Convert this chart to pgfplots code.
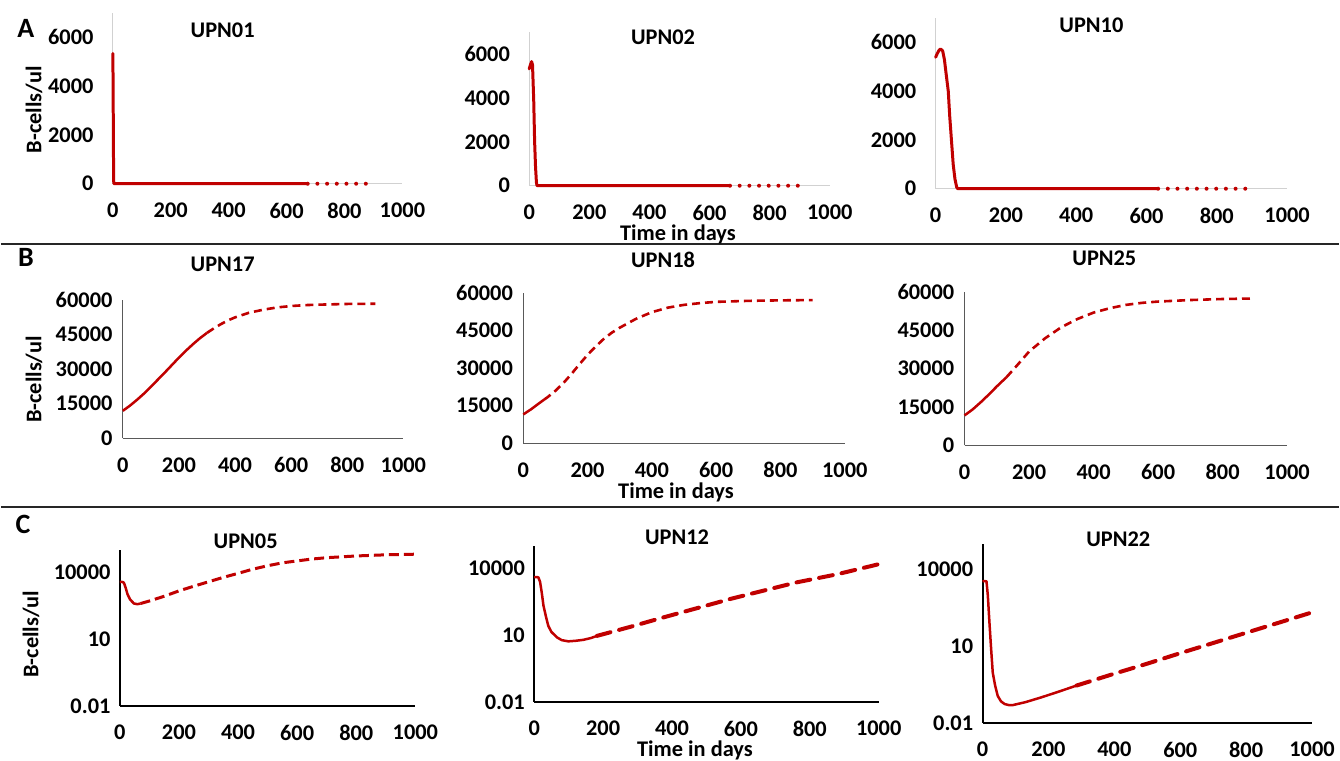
\documentclass[border=0pt]{standalone}
\usepackage{fontspec}
\setmainfont{Carlito}
\usepackage{pgfplots}
\pgfplotsset{compat=1.18}
\definecolor{cr}{HTML}{C00000}
\newcommand\tf{\fontsize{11.2}{13}\selectfont\bfseries}
\newcommand\lf{\fontsize{14}{16}\selectfont\bfseries}
\pgfplotsset{
 panel/.style={scale only axis, anchor=south west, axis x line*=bottom, axis y line*=left,
   xmin=0, xmax=1000, xtick={0,200,400,600,800,1000}, xticklabels={0,200,400,600,800,1000},
   major tick length=0pt, minor tick length=0pt, clip=false, scaled y ticks=false, scaled x ticks=false,
   tick label style={font=\tf}, xticklabel style={anchor=north, inner sep=0pt, yshift=-9.4pt},
   yticklabel style={anchor=east, inner sep=0pt},
   /pgf/number format/assume math mode=true},
 rowA/.style={panel, ymin=0, ymax=7000, ytick={0,2000,4000,6000}, yticklabels={0,2000,4000,6000},
   axis line style={draw=black!18, line width=0.6pt}, yticklabel style={xshift=-9.5pt}},
 rowB/.style={panel, ymin=0, ymax=60000, ytick={0,15000,30000,45000,60000}, yticklabels={0,15000,30000,45000,60000},
   axis line style={draw=black!65, line width=0.5pt}, yticklabel style={xshift=-5pt}},
 rowC/.style={panel, ymin=0.01, ymax=100000, ytick={0.01,10,10000}, yticklabels={0.01,10,10000},
   axis line style={draw=black, line width=1pt}, yticklabel style={xshift=-4.5pt}},
 solidA/.style={cr, line width=1.5pt, line join=round, line cap=round},
 dotA/.style={cr, line width=2pt, line cap=round, dash pattern=on 0pt off 4.85pt},
 solidB/.style={cr, line width=1.25pt, line join=round},
 dashB/.style={cr, line width=1.3pt, dash pattern=on 4pt off 2.5pt},
 dashC1/.style={cr, line width=1.5pt, dash pattern=on 5pt off 2.5pt},
 dashC/.style={cr, line width=2pt, line cap=round, dash pattern=on 7pt off 4.5pt},
}
\tikzset{tx/.style={font=\tf, inner sep=0pt}}
\begin{document}
\begin{tikzpicture}
\path (0,0) rectangle (670pt,381pt);
% separators
\draw[black!85, line width=1pt] (0,259pt) -- (670pt,259pt);
\draw[black!85, line width=1pt] (0,127pt) -- (670pt,127pt);
% letters
\node[font=\lf, inner sep=0pt] at (12.5pt,367pt) {A};
\node[font=\lf, inner sep=0pt] at (12.5pt,252pt) {B};
\node[font=\lf, inner sep=0pt] at (11pt,118.5pt) {C};
% titles
\node[tx] at (111pt,366pt) {UPN01};
\node[tx] at (331.5pt,362.5pt) {UPN02};
\node[tx] at (546pt,368.5pt) {UPN10};
\node[tx] at (111pt,248.5pt) {UPN17};
\node[tx] at (331.5pt,251pt) {UPN18};
\node[tx] at (552.5pt,251.5pt) {UPN25};
\node[tx] at (122.5pt,110pt) {UPN05};
\node[tx] at (338.5pt,112pt) {UPN12};
\node[tx] at (559.5pt,111pt) {UPN22};
% x labels
\node[tx] at (339pt,263.5pt) {Time in days};
\node[tx] at (338pt,134.5pt) {Time in days};
\node[tx] at (347.5pt,5pt) {Time in days};
% y labels
\node[tx, rotate=90] at (16.5pt,326pt) {B-cells/ul};
\node[tx, rotate=90] at (16.5pt,191pt) {B-cells/ul};
\node[tx, rotate=90] at (15pt,63.5pt) {B-cells/ul};

% ---------- Row A ----------
\begin{axis}[rowA, at={(56pt,289pt)}, width=145pt, height=85.5pt]
\addplot[solidA] coordinates {(0,5340) (1,4000) (2,1500) (3,100) (4,0) (673,0)};
\addplot[dotA] coordinates {(673,0) (874,0)};
\end{axis}
\begin{axis}[rowA, at={(264.5pt,288pt)}, width=150.5pt, height=77pt]
\addplot[solidA] coordinates {(0,5320) (4,5500) (8,5650) (11,5500) (15,3880) (18,2000) (21,860) (24,150) (26,0) (668,0)};
\addplot[dotA] coordinates {(668,0) (895,0)};
\end{axis}
\begin{axis}[rowA, at={(468pt,286.5pt)}, width=176pt, height=85.5pt]
\addplot[solidA] coordinates {(0,5390) (5,5550) (10,5680) (14,5730) (20,5650) (25,5300) (30,4700) (36,4000) (40,3000) (45,2000) (50,1000) (55,400) (60,60) (63,0) (633,0)};
\addplot[dotA] coordinates {(633,0) (883,0)};
\end{axis}

% ---------- Row B ----------
\begin{axis}[rowB, at={(61pt,161.5pt)}, width=140.5pt, height=69.5pt]
\addplot[solidB] coordinates {(0,11900) (25,14100) (50,16600) (75,19300) (100,22300) (125,25400) (150,28500) (175,31700) (200,34900) (225,37900) (250,40700) (275,43300) (300,45600)};
\addplot[dashB] coordinates {(300,45600) (325,47600) (350,49400) (375,51000) (400,52300) (450,54300) (500,55600) (550,56600) (600,57200) (650,57600) (700,57800) (800,58100) (900,58200)};
\end{axis}
\begin{axis}[rowB, at={(261.5pt,159pt)}, width=161pt, height=75.5pt]
\addplot[solidB] coordinates {(0,11500) (25,13600) (50,16000) (65,17400)};
\addplot[dashB] coordinates {(65,17400) (75,18300) (100,20900) (125,24000) (150,27600) (175,31500) (200,35200) (225,38500) (250,41500) (275,44000) (300,46000) (350,49500) (400,52200) (450,54000) (500,55100) (550,55800) (600,56300) (700,56700) (800,56900) (900,57000)};
\end{axis}
\begin{axis}[rowB, at={(482.5pt,158pt)}, width=161.5pt, height=77pt]
\addplot[solidB] coordinates {(0,11700) (25,14000) (50,16800) (75,19800) (100,23000) (130,26600)};
\addplot[dashB] coordinates {(130,26600) (160,30800) (200,36600) (250,41800) (300,46100) (350,49300) (400,51800) (450,53500) (500,54800) (550,55600) (600,56100) (700,56700) (800,57100) (900,57300)};
\end{axis}

% ---------- Row C ----------
\begin{axis}[ymode=log, rowC, at={(59.5pt,27.5pt)}, width=148pt, height=78pt]
\addplot[solidB] coordinates {(0,3700) (5,3750) (10,3700) (14,3400) (20,2000) (26,1050) (35,600) (48,400) (60,375) (70,400)};
\addplot[dashC1] coordinates {(70,400) (100,520) (150,850) (200,1480) (250,2400) (300,3800) (350,6000) (400,9100) (450,14000) (500,20000) (550,27000) (600,33000) (650,40000) (700,46000) (800,55000) (900,62000) (1000,66000)};
\end{axis}
\begin{axis}[ymode=log, rowC, at={(267pt,29.5pt)}, width=172.5pt, height=78pt]
\addplot[solidB] coordinates {(0,4000) (5,4100) (12,4000) (17,2500) (22,800) (27,210) (34,70) (41,26) (50,14) (66,8) (80,6) (99,5.3) (120,5.6) (143,6.2) (165,7.5) (182,9.3)};
\addplot[dashC] coordinates {(182,9.3) (280,24) (375,63) (470,160) (568,420) (665,1000) (761,2350) (880,5500) (1000,15500)};
\end{axis}
\begin{axis}[ymode=log, rowC, at={(491.5pt,19pt)}, width=165pt, height=89.5pt]
\addplot[solidB] coordinates {(0,3500) (5,3600) (12,3500) (16,1000) (21,83) (26,8) (31,0.93) (38,0.3) (46,0.115) (56,0.07) (67,0.055) (80,0.05) (92,0.05) (130,0.065) (178,0.1) (230,0.166) (285,0.29)};
\addplot[dashC] coordinates {(285,0.29) (400,0.85) (500,2.1) (600,5.4) (700,13.5) (800,34) (900,85) (1000,214)};
\end{axis}
\end{tikzpicture}
\end{document}
